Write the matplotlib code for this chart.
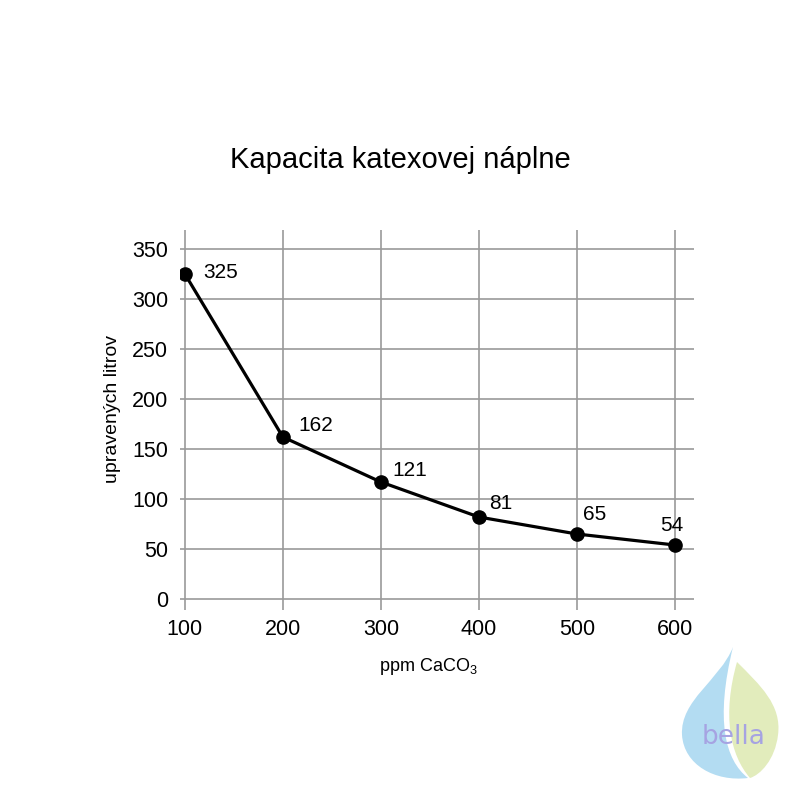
import matplotlib
matplotlib.use("Agg")
import matplotlib.pyplot as plt
from matplotlib.path import Path
from matplotlib.patches import PathPatch

# Data
ppm = [100, 200, 300, 400, 500, 600]
litres = [325, 162, 117, 82, 65, 54]
point_labels = ["325", "162", "121", "81", "65", "54"]
label_offsets = [(26, 1), (24, 8), (21, 8), (16, 10), (13, 14), (-2, 14)]  # points
x_ticks = [100, 200, 300, 400, 500, 600]
y_ticks = [0, 50, 100, 150, 200, 250, 300, 350]

title = "Kapacita katexovej náplne"
x_label = r"ppm CaCO$_{3}$"
y_label = "upravených litrov"

FONT = ["Liberation Sans", "DejaVu Sans"]
plt.rcParams["font.family"] = FONT
plt.rcParams["mathtext.fontset"] = "custom"
plt.rcParams["mathtext.rm"] = "Liberation Sans"
plt.rcParams["mathtext.it"] = "Liberation Sans"
plt.rcParams["mathtext.default"] = "regular"

fig = plt.figure(figsize=(8, 8), dpi=100)
fig.patch.set_facecolor("white")

ax = fig.add_axes([0.225, 0.2375, 0.643, 0.475])
ax.set_xlim(95, 620)
ax.set_ylim(-11, 369)
for s in ax.spines.values():
    s.set_visible(False)
ax.set_xticks(x_ticks)
ax.set_yticks(y_ticks)
ax.grid(True, color="#9a9a9a", linewidth=1.2)
ax.set_axisbelow(True)
ax.tick_params(length=0, labelsize=15.5, colors="black")
ax.tick_params(axis="x", pad=6.5)
ax.tick_params(axis="y", pad=8.5)

ax.plot(ppm, litres, color="black", linewidth=2.3, marker="o",
        markersize=9.5, zorder=3)
for x, y, lab, off in zip(ppm, litres, point_labels, label_offsets):
    ax.annotate(lab, (x, y), xytext=off, textcoords="offset points",
                ha="center", va="center", fontsize=15)

ax.set_xlabel(x_label, fontsize=13)
ax.xaxis.set_label_coords(0.483, -0.12)
ax.set_ylabel(y_label, fontsize=14)
ax.yaxis.set_label_coords(-0.115, 0.53)

fig.text(0.5, 0.8, title, ha="center", va="center", fontsize=21,
         family=["Liberation Sans", "DejaVu Sans"])

# small "bella" logo in the corner
lax = fig.add_axes([0.8375, 0.0125, 0.15, 0.1875])
lax.set_xlim(670, 790)
lax.set_ylim(790, 640)
lax.axis("off")
C = Path.CURVE4
drop = Path([(733, 647), (720, 680), (680, 700), (682, 735),
             (684, 765), (715, 782), (748, 778),
             (725, 760), (715, 720), (733, 647), (733, 647)],
            [Path.MOVETO, C, C, C, C, C, C, C, C, C, Path.CLOSEPOLY])
leaf = Path([(737, 662), (760, 685), (782, 705), (778, 735),
             (775, 760), (760, 775), (750, 778),
             (730, 755), (722, 715), (737, 662), (737, 662)],
            [Path.MOVETO, C, C, C, C, C, C, C, C, C, Path.CLOSEPOLY])
lax.add_patch(PathPatch(drop, facecolor="#b3dcf2", edgecolor="none"))
lax.add_patch(PathPatch(leaf, facecolor="#e2ecbc", edgecolor="none"))
lax.text(734, 737, "bella", ha="center", va="center", fontsize=19,
         color="#a6a3e2", family=["DejaVu Sans"])

fig.savefig("out.png", dpi=100, facecolor="white")
